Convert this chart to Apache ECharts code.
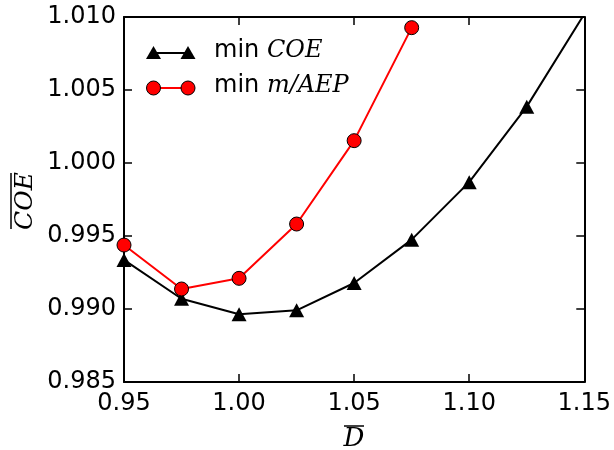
<!DOCTYPE html>
<html>
<head>
<meta charset="utf-8">
<script src="https://cdn.jsdelivr.net/npm/echarts@6/dist/echarts.min.js"></script>
<style>
html,body{margin:0;padding:0;background:#fff;}
#chart{width:614px;height:450px;}
</style>
</head>
<body>
<div id="chart"></div>
<script>
// diameter ratio D (x), both series share the same grid of D values
var dMinCOE = [0.95, 0.975, 1.0, 1.025, 1.05, 1.075, 1.1, 1.125, 1.15];
var coeMinCOE = [0.99336, 0.9907, 0.98964, 0.98991, 0.99178, 0.99475, 0.99869, 1.00386, 1.0102];
var dMinMAEP = [0.95, 0.975, 1.0, 1.025, 1.05, 1.075];
var coeMinMAEP = [0.99438, 0.99137, 0.99210, 0.99582, 1.00153, 1.00927];
var legendNames = ['min ', 'COE', 'm/AEP'];

function pairs(xs, ys){
	var res = [];
	for(var i=0;i<xs.length;i++) res.push([xs[i], ys[i]]);
	return res;
}

var mainFont = 'DejaVu Sans';
var mathFont = 'DejaVu Serif';

var myChart = echarts.init(document.getElementById('chart'));

function xAxisOpt(pos, showLabel){
	return {
		type: 'value', position: pos,
		min: 0.95, max: 1.15, interval: 0.05,
		axisLine: {show: true, onZero: false, lineStyle: {color: '#000', width: 2}},
		axisTick: {show: true, inside: true, length: 8, lineStyle: {color: '#000', width: 1.5}},
		axisLabel: {show: showLabel, margin: 10, color: '#000', fontFamily: mainFont, fontSize: 24,
			formatter: function(v){ return v.toFixed(2); }},
		splitLine: {show: false}
	};
}
function yAxisOpt(pos, showLabel){
	return {
		type: 'value', position: pos,
		min: 0.985, max: 1.010, interval: 0.005,
		axisLine: {show: true, onZero: false, lineStyle: {color: '#000', width: 2}},
		axisTick: {show: true, inside: true, length: 8, lineStyle: {color: '#000', width: 1.5}},
		axisLabel: {show: showLabel, margin: 8, color: '#000', fontFamily: mainFont, fontSize: 24,
			formatter: function(v){ return v.toFixed(3); }},
		splitLine: {show: false}
	};
}

function legendText(y, mathPart){
	return {type: 'text', x: 214, y: y, style: {
		text: '{a|' + legendNames[0] + '}{b|' + mathPart + '}',
		verticalAlign: 'middle',
		rich: {
			a: {fontFamily: mainFont, fontSize: 24, fill: '#000'},
			b: {fontFamily: mathFont, fontStyle: 'italic', fontSize: 24, fill: '#000'}
		}
	}};
}

var option = {
	backgroundColor: '#fff',
	animation: false,
	grid: {left: 124, right: 29, top: 17, bottom: 68},
	xAxis: [xAxisOpt('bottom', true), xAxisOpt('top', false)],
	yAxis: [yAxisOpt('left', true), yAxisOpt('right', false)],
	series: [
		{
			name: 'min COE', type: 'line', clip: true,
			data: pairs(dMinCOE, coeMinCOE),
			symbol: 'triangle', symbolSize: [15, 14],
			lineStyle: {color: '#000', width: 2},
			itemStyle: {color: '#000', borderWidth: 0},
			z: 2
		},
		{
			name: 'min m/AEP', type: 'line', clip: true,
			data: pairs(dMinMAEP, coeMinMAEP),
			symbol: 'circle', symbolSize: 14,
			lineStyle: {color: '#ff0000', width: 2},
			itemStyle: {color: '#ff0000', borderColor: '#000', borderWidth: 1},
			z: 3
		}
	],
	graphic: [
		// legend row 1
		{type: 'line', shape: {x1: 153, y1: 53, x2: 188, y2: 53}, style: {stroke: '#000', lineWidth: 2}},
		{type: 'polygon', shape: {points: [[153.5, 46], [146, 59], [161, 59]]}, style: {fill: '#000'}},
		{type: 'polygon', shape: {points: [[188, 46], [180.5, 59], [195.5, 59]]}, style: {fill: '#000'}},
		legendText(51, legendNames[1]),
		// legend row 2
		{type: 'line', shape: {x1: 153, y1: 88, x2: 188, y2: 88}, style: {stroke: '#ff0000', lineWidth: 2}},
		{type: 'circle', shape: {cx: 153.5, cy: 88, r: 7}, style: {fill: '#ff0000', stroke: '#000', lineWidth: 1}},
		{type: 'circle', shape: {cx: 188, cy: 88, r: 7}, style: {fill: '#ff0000', stroke: '#000', lineWidth: 1}},
		legendText(86, legendNames[2]),
		// y axis title with overline
		{type: 'text', x: 25, y: 201, rotation: Math.PI / 2, style: {
			text: 'COE', fontFamily: mathFont, fontStyle: 'italic', fontSize: 25,
			fill: '#000', align: 'center', verticalAlign: 'middle'
		}},
		{type: 'line', shape: {x1: 11, y1: 173, x2: 11, y2: 229}, style: {stroke: '#000', lineWidth: 1.5}},
		// x axis title with overline
		{type: 'text', x: 354, y: 439, style: {
			text: 'D', fontFamily: mathFont, fontStyle: 'italic', fontSize: 26,
			fill: '#000', align: 'center', verticalAlign: 'middle'
		}},
		{type: 'line', shape: {x1: 344, y1: 426, x2: 364, y2: 426}, style: {stroke: '#000', lineWidth: 1.5}}
	]
};
myChart.setOption(option);
</script>
</body>
</html>
